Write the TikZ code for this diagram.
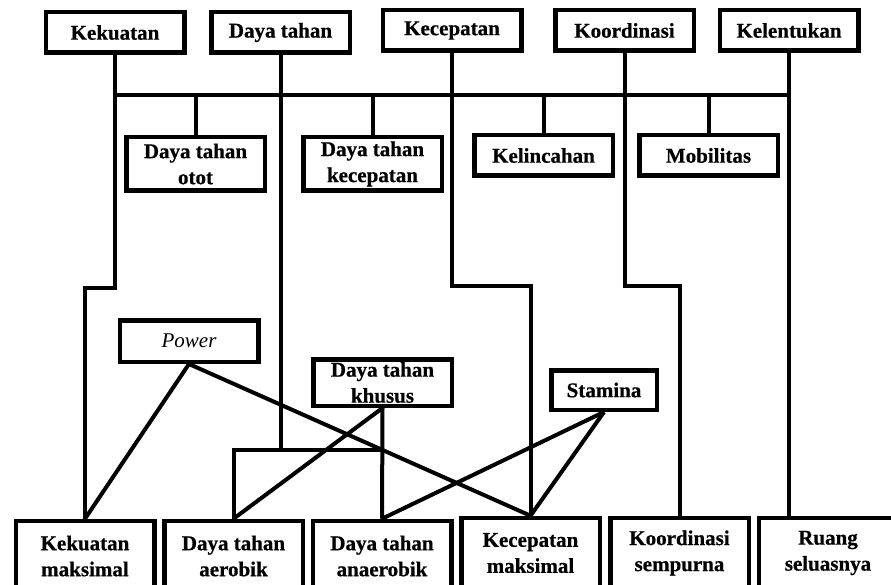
\documentclass[tikz,border=0pt]{standalone}
\usepackage{fontspec}
\setmainfont[BoldFeatures={FakeBold=0.6}]{Liberation Serif}
\begin{document}
\begin{tikzpicture}[x=1pt,y=-1pt,
  box/.style={draw, line width=4.5pt, fill=white, minimum width=138.5pt, inner sep=0pt, align=center, font=\fontsize{21}{26}\selectfont\bfseries},
  conn/.style={line width=4pt}]
\useasboundingbox (0,0) rectangle (891,585);
\clip (0,0) rectangle (891,585);
% top row
\node[box, minimum height=40.5pt] (kek) at (115,32.5) {Kekuatan};
\node[box, minimum height=40.5pt] (dt)  at (280.5,32.5) {Daya tahan};
\node[box, minimum height=40.5pt] (kec) at (452,30.5) {Kecepatan};
\node[box, minimum height=40.5pt] (koo) at (624.5,30.5) {Koordinasi};
\node[box, minimum height=40.5pt] (kel) at (789,30.5) {Kelentukan};
% second row
\node[box, minimum height=53.5pt] (otot) at (195.5,164) {Daya tahan\\otot};
\node[box, minimum height=53.5pt] (dtk)  at (372.5,164) {Daya tahan\\kecepatan};
\node[box, minimum height=40.5pt] (lin)  at (543.5,155.5) {Kelincahan};
\node[box, minimum height=40.5pt] (mob)  at (708.5,155.5) {Mobilitas};
% middle
\node[box, minimum height=41.5pt, font=\fontsize{21}{26}\selectfont\itshape] (pow) at (189,341) {Power};
\node[box, minimum height=46.5pt] (khu) at (382.5,382.5) {Daya tahan\\khusus};
\node[box, minimum height=39.5pt, minimum width=105.5pt] (sta) at (604,390) {Stamina};
% bottom row
\node[box, minimum height=70pt] (km)  at (85,556) {Kekuatan\\maksimal};
\node[box, minimum height=70pt] (aer) at (233.5,556) {Daya tahan\\aerobik};
\node[box, minimum height=70pt] (ana) at (382,556) {Daya tahan\\anaerobik};
\node[box, minimum height=70pt] (kcm) at (530.5,553) {Kecepatan\\maksimal};
\node[box, minimum height=70pt] (ks)  at (679.5,553) {Koordinasi\\sempurna};
\node[box, minimum height=70pt] (ru)  at (828,553) {Ruang\\seluasnya};
% bend coordinates
\coordinate (bl) at (115,95);
\coordinate (br) at (789,95);
\coordinate (kbend) at (100,288);
\coordinate (dtbar) at (280,450);
\coordinate (kecbend) at (490,286);
\coordinate (koobend) at (650,286);
% bus
\draw[conn] (bl) -- (br);
\draw[conn] (dt.south) -- (dt.south |- bl);
\draw[conn] (otot.north) -- (otot.north |- bl);
\draw[conn] (dtk.north) -- (dtk.north |- bl);
\draw[conn] (lin.north) -- (lin.north |- bl);
\draw[conn] (mob.north) -- (mob.north |- bl);
% long verticals
\draw[conn] (kek.south) |- (kbend) -| (km.north);
\draw[conn] (dt.south) -- (dt.south |- dtbar);
\draw[conn] (aer.north) |- (khu.south |- dtbar);
\draw[conn] (khu.south) -- (ana.north);
\draw[conn] (kec.south) |- (kecbend) -| (kcm.north);
\draw[conn] (koo.south) |- (koobend) -| (ks.north);
\draw[conn] (kel.south) -- (kel.south |- ru.north);
% diagonals
\draw[conn] (pow.south) -- (km.north);
\draw[conn] (pow.south) -- (kcm.north);
\draw[conn] (khu.south) -- (aer.north);
\draw[conn] (sta.south) -- (kcm.north);
\draw[conn] (sta.south) -- (ana.north);
\end{tikzpicture}
\end{document}
